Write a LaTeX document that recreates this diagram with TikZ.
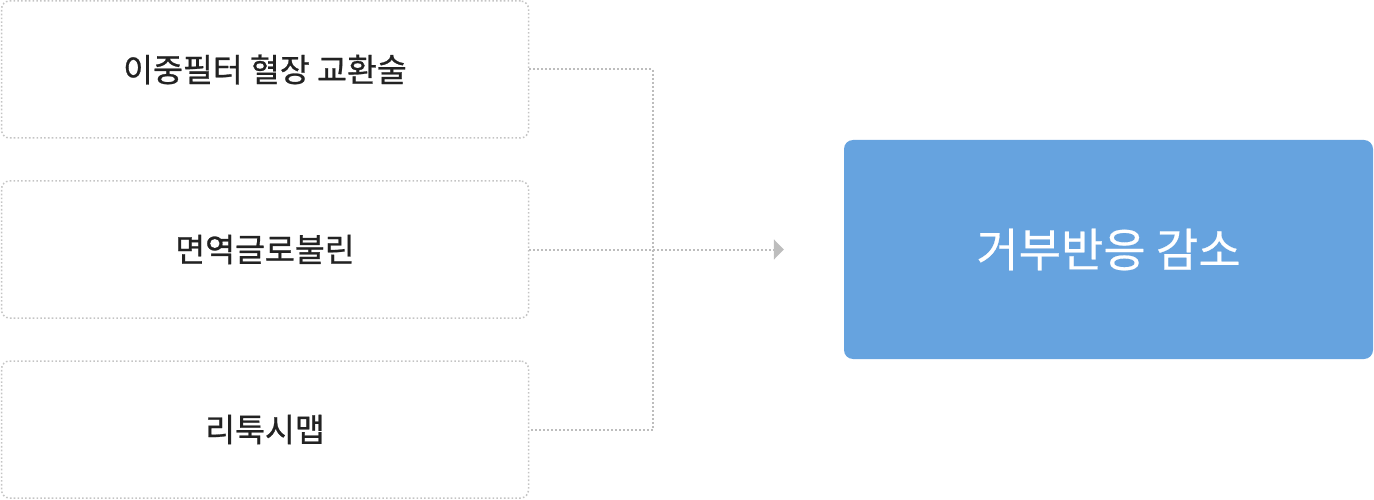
\documentclass[tikz,border=0pt]{standalone}
\usepackage{fontspec}
\setmainfont{Noto Sans CJK KR}
\newfontfamily\medfont[FakeBold=0.8]{Noto Sans CJK KR}
\newfontfamily\regfont[FakeBold=0.4]{Noto Sans CJK KR}
\usetikzlibrary{arrows.meta}
\definecolor{dotgray}{HTML}{BDBDBD}
\definecolor{boxgray}{HTML}{C4C4C4}
\definecolor{tipgray}{HTML}{BDBDBD}
\definecolor{bluefill}{HTML}{66A3DF}
\definecolor{txt}{HTML}{222222}
\tikzset{
  srcbox/.style={draw=boxgray, line width=1.5pt, dash pattern=on 1.6pt off 2.2pt,
    rounded corners=8pt, minimum width=527pt, minimum height=137pt,
    inner sep=0pt, text=txt, font=\medfont\fontsize{32.5pt}{38pt}\selectfont},
  tgtbox/.style={fill=bluefill, rounded corners=9pt, minimum width=529pt,
    minimum height=219pt, inner sep=0pt, text=white,
    font=\regfont\fontsize{46pt}{52pt}\selectfont},
  link/.style={draw=dotgray, line width=2pt, dash pattern=on 2pt off 2pt},
  tip/.style={-{Triangle[length=10pt,width=20pt,color=tipgray]}}
}
\begin{document}
\begin{tikzpicture}[x=1pt,y=-1pt]
\useasboundingbox (0,0) rectangle (1374,500);
\node[srcbox] (b1) at (265,69.5) {이중필터 혈장 교환술};
\node[srcbox] (b2) at (265,249.5) {면역글로불린};
\node[srcbox] (b3) at (265,429.5) {리툭시맵};
\node[tgtbox] (t) at (1108.5,249.5) {거부반응 감소};
\coordinate (j) at (653,249.5);
\draw[link] (b1.east) -| (j) |- (b3.east);
\draw[link,tip,shorten >=60pt] (b2.east) -- (t.west);
\end{tikzpicture}
\end{document}
